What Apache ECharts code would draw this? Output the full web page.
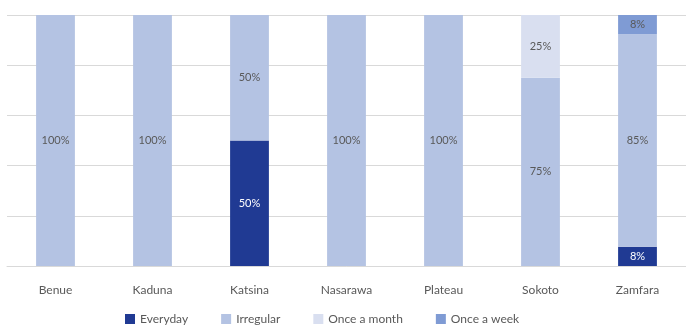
<!DOCTYPE html>
<html>
<head>
<meta charset="utf-8">
<script src="https://cdn.jsdelivr.net/npm/echarts@6/dist/echarts.min.js"></script>
<style>
  html, body { margin: 0; padding: 0; background: #fff; }
  #chart { width: 686px; height: 333px; }
</style>
</head>
<body>
<div id="chart"></div>
<script>
const states = ['Benue', 'Kaduna', 'Katsina', 'Nasarawa', 'Plateau', 'Sokoto', 'Zamfara'];
const everyday = [0, 0, 50, 0, 0, 0, 7.7];
const irregular = [100, 100, 50, 100, 100, 75, 84.6];
const onceMonth = [0, 0, 0, 0, 0, 25, 0];
const onceWeek = [0, 0, 0, 0, 0, 0, 7.7];

const font = 'Lato, "Open Sans", sans-serif';

function mkSeries(name, data, color, labelColor) {
  return {
    name: name,
    type: 'bar',
    stack: 'total',
    barWidth: '40%',
    data: data,
    itemStyle: { color: color },
    label: {
      show: true,
      position: 'inside',
      color: labelColor,
      fontFamily: font,
      fontSize: 11,
      formatter: function (p) { return p.value > 0 ? Math.round(p.value) + '%' : ''; }
    }
  };
}

let myChart = echarts.init(document.getElementById('chart'));
myChart.setOption({
  animation: false,
  grid: { left: 7, top: 15, width: 686, height: 251, containLabel: false },
  legend: {
    bottom: 3,
    left: 120,
    itemWidth: 10,
    itemHeight: 10,
    itemGap: 33,
    icon: 'rect',
    textStyle: { color: '#595959', fontFamily: font, fontSize: 12 },
    data: ['Everyday', 'Irregular', 'Once a month', 'Once a week']
  },
  xAxis: {
    type: 'category',
    data: states,
    axisTick: { show: false },
    axisLine: { lineStyle: { color: '#d9d9d9' } },
    axisLabel: { color: '#595959', fontFamily: font, fontSize: 12, margin: 18 }
  },
  yAxis: {
    type: 'value',
    min: 0,
    max: 100,
    interval: 20,
    axisLabel: { show: false },
    axisLine: { show: false },
    splitLine: { lineStyle: { color: '#d9d9d9' } }
  },
  series: [
    mkSeries('Everyday', everyday, '#203a93', '#ffffff'),
    mkSeries('Irregular', irregular, '#b4c3e3', '#595959'),
    mkSeries('Once a month', onceMonth, '#d9dff0', '#595959'),
    mkSeries('Once a week', onceWeek, '#7f9bd4', '#595959')
  ]
});
</script>
</body>
</html>
